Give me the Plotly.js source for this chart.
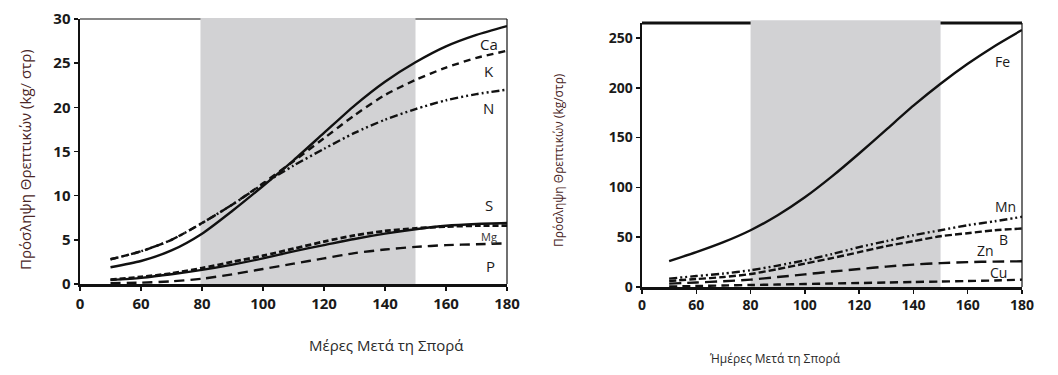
<!DOCTYPE html>
<html>
<head>
<meta charset="utf-8">
<script src="https://cdn.plot.ly/plotly-3.0.1.min.js"></script>
<style>html,body{margin:0;padding:0;background:#fff}#chart{width:1058px;height:375px}</style>
</head>
<body>
<div id="chart"></div>
<script>
// ---- data ----
const days = [50,60,70,80,90,100,110,120,130,140,150,160,170,180];

// left panel: macronutrients (kg/στρ)
const Ca = [1.9,2.6,3.8,5.7,8.3,11.1,14.0,17.1,20.2,22.9,25.1,26.9,28.2,29.2];
const K  = [2.8,3.7,5.0,6.9,9.0,11.4,13.9,16.5,19.1,21.4,23.1,24.5,25.6,26.4];
const N  = [2.8,3.7,5.0,6.9,9.0,11.3,13.4,15.3,17.1,18.6,19.8,20.8,21.5,22.0];
const S  = [0.45,0.7,1.1,1.6,2.2,2.9,3.7,4.4,5.1,5.7,6.2,6.6,6.8,6.9];
const Mg = [0.5,0.8,1.2,1.8,2.5,3.2,4.0,4.8,5.5,6.0,6.3,6.5,6.6,6.6];
const P  = [0.1,0.15,0.3,0.6,1.1,1.7,2.3,2.9,3.5,3.9,4.2,4.4,4.5,4.6];

// right panel: micronutrients
const Fe = [26,35,45,57,72,90,111,134,158,182,204,224,242,258];
const Mn = [8.4,11,13.5,16.8,21.5,26.8,33,40,46,52,57,62,66,70.5];
const B  = [6,8,10,13,18,23.5,29,35,41,46,51,54,57,58.7];
const Zn = [3.4,4.5,5.8,7.4,10,12.7,15.5,18,20.5,22.5,24,25,25.5,25.8];
const Cu = [0.5,1,1.5,2,2.5,3,3.5,4,4.5,5,5.5,6,6.5,7.4];

const xTickVals = [40,60,80,100,120,140,160,180];
const xTickText = ["0","60","80","100","120","140","160","180"];
const shadeStart = 79.5, shadeEnd = 150;

const leftLabels  = [["Ca",174,27.2],["K",174,24.1],["N",174,19.9],["S",174,8.9],["Mg",174,5.4],["P",174.5,2.0]];
const rightLabels = [["Fe",172.7,226],["Mn",174,81],["B",173.3,48],["Zn",166.5,37],["Cu",171.4,15]];

// ---- styles ----
const DDOT = "8px,3px,2px,3px,2px,3px";
function tr(y, xa, ya, dash, w) {
  return {x: days, y: y, xaxis: xa, yaxis: ya, mode: "lines", hoverinfo: "skip",
          line: {color: "#111", width: w || 2.4, dash: dash, shape: "spline", smoothing: 0.7}};
}
const traces = [
  tr(Ca,"x","y","solid"), tr(K,"x","y","7px,5px"), tr(N,"x","y",DDOT),
  tr(S,"x","y","solid"), tr(Mg,"x","y","6px,3px",2.8), tr(P,"x","y","10px,6px"),
  tr(Fe,"x2","y2","solid"), tr(Mn,"x2","y2",DDOT), tr(B,"x2","y2","7px,3px"),
  tr(Zn,"x2","y2","12px,6px"), tr(Cu,"x2","y2","8px,5px")
];

const tickFont = {family: "Open Sans, DejaVu Sans, sans-serif", size: 15, color: "#1a1a1a", weight: "bold"};
const tickFontR = Object.assign({}, tickFont, {size: 14});
function xax(domain, anchor, font) {
  return {domain: domain, anchor: anchor, range: [40,180], tickmode: "array",
          tickvals: xTickVals, ticktext: xTickText, ticks: "outside", ticklen: 4,
          tickwidth: 1.5, tickcolor: "#111", showgrid: false, zeroline: false,
          showline: true, linewidth: 2.5, linecolor: "#111", tickfont: font, fixedrange: true};
}
function yax(domain, anchor, range, dtick, font) {
  return {domain: domain, anchor: anchor, range: range, dtick: dtick, ticks: "outside",
          ticklen: 4, tickwidth: 1.5, tickcolor: "#111", showgrid: false, zeroline: false,
          showline: true, linewidth: 2.5, linecolor: "#111", tickfont: font, fixedrange: true};
}

const shapes = [
  // left frame top/right (thin)
  {type:"line", xref:"x domain", yref:"y domain", x0:0, x1:1, y0:1, y1:1, line:{color:"#111", width:1.2}, layer:"below"},
  {type:"line", xref:"x domain", yref:"y domain", x0:1, x1:1, y0:0, y1:1, line:{color:"#111", width:1.2}, layer:"below"},
  {type:"rect", xref:"x", yref:"y domain", x0:shadeStart, x1:shadeEnd, y0:0, y1:1.004, fillcolor:"#d2d2d4", line:{width:0}, layer:"below"},
  // right frame top (thick) / right (thin)
  {type:"line", xref:"x2 domain", yref:"y2 domain", x0:0, x1:1, y0:1, y1:1, line:{color:"#111", width:2.8}, layer:"below"},
  {type:"line", xref:"x2 domain", yref:"y2 domain", x0:1, x1:1, y0:0, y1:1, line:{color:"#111", width:1.2}, layer:"below"},
  {type:"rect", xref:"x2", yref:"y2 domain", x0:80, x1:shadeEnd, y0:0, y1:1.01, fillcolor:"#d2d2d4", line:{width:0}, layer:"below"}
];

const labelFont = {family: "Open Sans, DejaVu Sans, sans-serif", size: 15, color: "#1a1a1a"};
const annotations = [];
leftLabels.forEach(l => annotations.push({x:l[1], y:l[2], xref:"x", yref:"y", text:l[0], showarrow:false,
  font: Object.assign({}, labelFont, l[0]==="Mg" ? {size: 11, color:"#333"} : {})}));
rightLabels.forEach(l => annotations.push({x:l[1], y:l[2], xref:"x2", yref:"y2", text:l[0], showarrow:false,
  font: Object.assign({}, labelFont, {size: 14})}));

// axis titles as annotations for precise placement
const titleFontL = {family: "Open Sans, DejaVu Sans, sans-serif", size: 15, color: "#4a2626"};
annotations.push({xref:"paper", yref:"paper", x:13/1058, y:1-160/375, text:"Πρόσληψη Θρεπτικών (kg/ στρ)",
  textangle:-90, showarrow:false, font: titleFontL});
annotations.push({xref:"paper", yref:"paper", x:307/1058, y:1-345/375, yanchor:"middle", text:"Μέρες Μετά τη Σπορά",
  showarrow:false, font:{family:"Open Sans, DejaVu Sans, sans-serif", size:15, color:"#2a2a2a"}});
annotations.push({xref:"paper", yref:"paper", x:558/1058, y:1-160/375, text:"Πρόσληψη Θρεπτικών (kg/στρ)",
  textangle:-90, showarrow:false, font: Object.assign({}, titleFontL, {size: 12})});
annotations.push({xref:"paper", yref:"paper", x:843/1058, y:1-358/375, yanchor:"middle", text:"Ήμέρες Μετά τη Σπορά",
  showarrow:false, font:{family:"Open Sans, DejaVu Sans, sans-serif", size:12, color:"#2a2a2a"}});

const layout = {
  width: 1058, height: 375, margin: {l:0, r:0, t:0, b:0},
  paper_bgcolor: "#fff", plot_bgcolor: "#fff", showlegend: false,
  xaxis: xax([80/1058, 507/1058], "y", tickFont),
  yaxis: yax([1-284/375, 1-19/375], "x", [0,30], 5, tickFont),
  xaxis2: xax([642/1058, 1022/1058], "y2", tickFontR),
  yaxis2: yax([1-287/375, 1-23/375], "x2", [0,265], 50, tickFontR),
  shapes: shapes, annotations: annotations
};

Plotly.newPlot("chart", traces, layout, {staticPlot: true, displayModeBar: false});
</script>
</body>
</html>
